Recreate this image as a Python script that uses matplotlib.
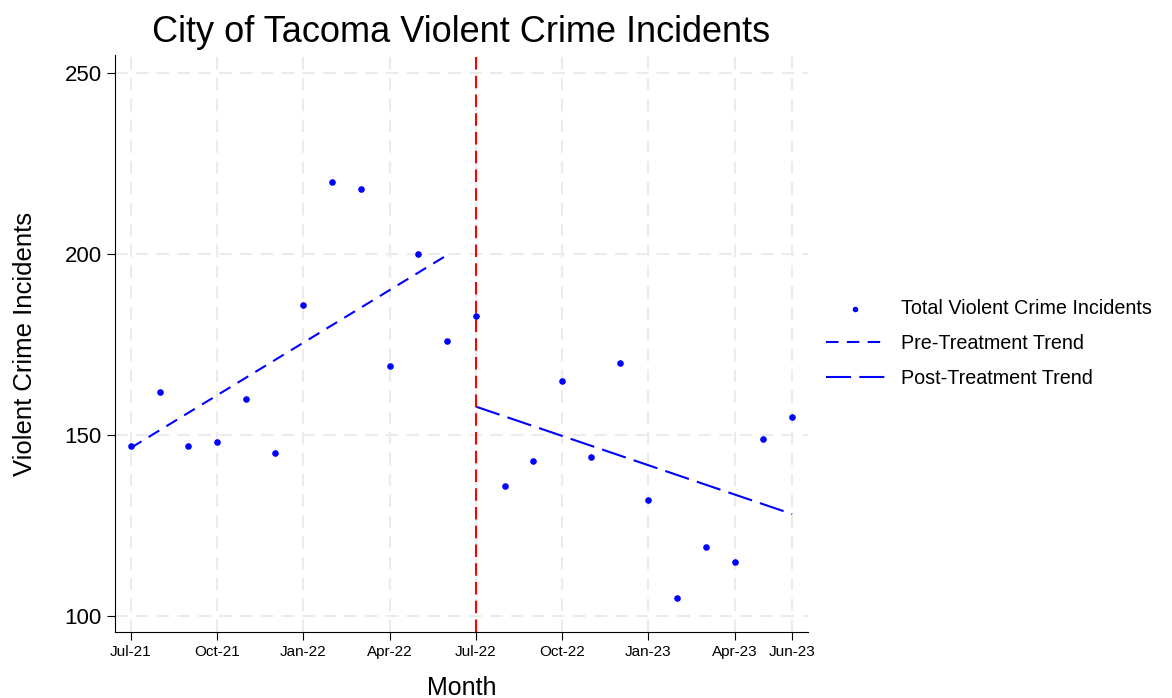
import numpy as np
import matplotlib
matplotlib.use("Agg")
import matplotlib.pyplot as plt

plt.rcParams['font.family'] = ['Liberation Sans', 'DejaVu Sans']

# months since Jul-21 (0 = Jul-21, 23 = Jun-23)
months = list(range(24))
incidents = [147, 162, 147, 148, 160, 145, 186, 220, 218, 169, 200, 176,
             183, 136, 143, 165, 144, 170, 132, 105, 119, 115, 149, 155]

# fitted trend lines, endpoints
pre_x = [0, 11]
pre_trend = [146.5, 199.8]
post_x = [12, 23]
post_trend = [157.9, 128.2]

tick_pos = [0, 3, 6, 9, 12, 15, 18, 21, 23]
tick_labels = ["Jul-21", "Oct-21", "Jan-22", "Apr-22", "Jul-22",
               "Oct-22", "Jan-23", "Apr-23", "Jun-23"]
treat_month = 12

fig = plt.figure(figsize=(11.72, 6.98), dpi=100)
ax = fig.add_axes([115 / 1172, 1 - 632 / 698, 693 / 1172, 577 / 698])

ax.scatter(months, incidents, s=14, color='blue', marker='o', zorder=3,
           label="Total Violent Crime Incidents")
ax.plot(pre_x, pre_trend, color='blue', linestyle=(0, (6, 4)), lw=1.5,
        label="Pre-Treatment Trend")
ax.plot(post_x, post_trend, color='blue', linestyle=(0, (12, 4)), lw=1.5,
        label="Post-Treatment Trend")
ax.axvline(treat_month, color='red', linestyle=(0, (6, 3)), lw=1.5, zorder=2)

ax.set_xlim(-0.55, 23.55)
ax.set_ylim(95.6, 255.1)
ax.set_xticks(tick_pos)
ax.set_xticklabels(tick_labels, fontsize=11)
ax.set_yticks([100, 150, 200, 250])
ax.tick_params(axis='y', labelsize=16, length=6)
ax.tick_params(axis='x', length=6)

ax.grid(True, color='#ebebeb', linestyle=(0, (6, 4)), lw=1.5)
ax.set_axisbelow(True)
for s in ['top', 'right']:
    ax.spines[s].set_visible(False)

ax.set_title("City of Tacoma Violent Crime Incidents", fontsize=26, pad=9)
ax.set_xlabel("Month", fontsize=18, labelpad=12)
ax.set_ylabel("Violent Crime Incidents", fontsize=18.5, labelpad=20)

ax.legend(loc='center left', bbox_to_anchor=(1.0, 0.5), frameon=False,
          fontsize=14.2, handlelength=3.0, handletextpad=0.8,
          labelspacing=0.8, markerscale=0.8)

fig.savefig("out.png", dpi=100)
